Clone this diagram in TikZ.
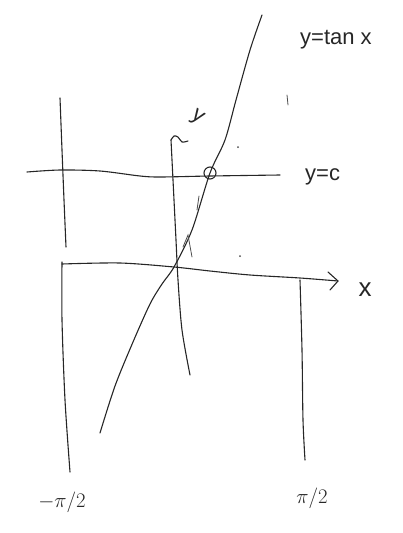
\documentclass[tikz,border=0pt]{standalone}
\usepackage{fontspec}
\setmainfont{Liberation Sans}
\begin{document}
\begin{tikzpicture}[x=1pt,y=-1pt,
  ink/.style={line width=1.1pt,line cap=round,line join=round,black!85},
  faint/.style={line width=0.8pt,line cap=round,black!70},
  lbl/.style={font=\fontsize{22}{24}\selectfont,text=black!85,inner sep=0pt}]
\useasboundingbox (0,0) rectangle (403,533);
% named coordinates
\coordinate (O) at (174,267);
\coordinate (P) at (210,173);
\coordinate (xend) at (338,281);
\coordinate (ytop) at (171,140);
% left asymptote x=-pi/2
\draw[ink] plot[smooth] coordinates {(60,98) (62,150) (64,200) (66,247)};
\draw[ink] plot[smooth] coordinates {(62,262) (62,320) (65,400) (70,472)};
% right asymptote x=pi/2
\draw[ink] plot[smooth] coordinates {(300,280) (302,350) (303,420) (305,460)};
% line y=c
\draw[ink] plot[smooth] coordinates {(27,172) (60,170) (100,171) (140,176) (160,177) (210,176) (280,175)};
% x axis
\draw[ink] plot[smooth] coordinates {(62,264) (120,263) (O) (210,271) (250,275) (300,278) (xend)};
\draw[ink] (328,272) -- (xend) -- (330,290);
% y axis
\draw[ink] plot[smooth] coordinates {(ytop) (174,200) (176,240) (178,280) (182,330) (190,375)};
\draw[ink] plot[smooth] coordinates {(ytop) (174,136) (178,137) (182,142) (188,141)};
% curve y = tan x
\draw[ink] plot[smooth] coordinates {(100,433) (115,386) (133,342) (150,304) (162,284) (O) (192,230) (P) (225,140) (236,100) (250,50) (262,15)};
% marked point
\node[draw,ink,circle,minimum size=12pt,inner sep=0pt] (pt) at (P) {};
% small marks
\draw[faint] (287,95) -- (288,105);
\fill[black!70] (238,147) circle (1pt);
\fill[black!70] (240,256) circle (1pt);
\draw[faint] (199,196) -- (197,210);
\draw[faint] (183,247) -- (188,235) -- (192,257);
% labels
\node[lbl,anchor=west] (ltan) at (300,40) {y=tan x};
\node[lbl,anchor=west] (lc) at (305,177) {y=c};
\node[lbl,font=\fontsize{26}{28}\selectfont] (lx) at (365,290) {x};
\node[lbl,rotate=-35] (ly) at (197,118) {y};
\node[lbl] (lm) at (62,502) {$-\pi/2$};
\node[lbl] (lp) at (312,498) {$\pi/2$};
\end{tikzpicture}
\end{document}
